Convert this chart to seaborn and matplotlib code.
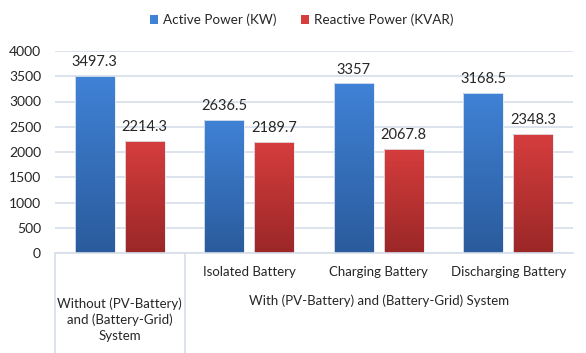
import numpy as np
import pandas as pd
import matplotlib.pyplot as plt
import matplotlib.colors as mcolors
from matplotlib.lines import Line2D
from matplotlib.patches import Patch
import seaborn as sns

# chart data
cases = ["Without", "Isolated Battery", "Charging Battery", "Discharging Battery"]
active_kw = [3497.3, 2636.5, 3357, 3168.5]
reactive_kvar = [2214.3, 2189.7, 2067.8, 2348.3]
series_names = ["Active Power (KW)", "Reactive Power (KVAR)"]
sub_labels = ["", "Isolated Battery", "Charging Battery", "Discharging Battery"]
group_labels = ["Without (PV-Battery)\nand (Battery-Grid)\nSystem",
                "With (PV-Battery) and (Battery-Grid) System"]
y_ticks = list(range(0, 4001, 500))

# (top, bottom) gradient colours per series
GRAD = {series_names[0]: ("#4082d6", "#2a5b9c"),
        series_names[1]: ("#d63d3d", "#9b2727")}

df = pd.DataFrame({
    "case": cases * 2,
    "series": [series_names[0]] * 4 + [series_names[1]] * 4,
    "value": active_kw + reactive_kvar,
})

sns.set_style("white")
plt.rcParams["font.family"] = ["Lato", "DejaVu Sans"]
TXT = "#262626"
LINE = "#d5deea"

fig = plt.figure(figsize=(5.86, 3.53), dpi=100)
ax = fig.add_axes([55 / 586, 1 - 253 / 353, 518 / 586, 202 / 353])

sns.barplot(data=df, x="case", y="value", hue="series", order=cases,
            hue_order=series_names, width=0.77, gap=0.2, legend=False,
            palette=[GRAD[s][0] for s in series_names], ax=ax, zorder=3)

ax.set_ylim(0, 4000)
ax.set_xlim(-0.5, 3.5)
ax.set_yticks(y_ticks)
ax.set_yticklabels([str(t) for t in y_ticks], fontsize=10, color=TXT)
ax.tick_params(axis="y", length=0, pad=10)
ax.set_xticks([])
ax.set_xlabel("")
ax.set_ylabel("")
ax.grid(axis="y", color=LINE, linewidth=1.2, zorder=0)
for s in ["top", "right", "left"]:
    ax.spines[s].set_visible(False)
ax.spines["bottom"].set_color(LINE)
ax.spines["bottom"].set_linewidth(1.2)

# gradient fill + value labels
for container, name in zip(ax.containers, series_names):
    cmap = mcolors.LinearSegmentedColormap.from_list(name, [GRAD[name][1], GRAD[name][0]])
    for bar in container:
        x0, y0 = bar.get_x(), bar.get_y()
        w, h = bar.get_width(), bar.get_height()
        bar.set_facecolor("none")
        bar.set_edgecolor("#e4e9f2")
        bar.set_linewidth(0.6)
        grad = np.linspace(0, 1, 256).reshape(-1, 1)
        im = ax.imshow(grad, extent=[x0, x0 + w, y0, y0 + h], origin="lower",
                       cmap=cmap, aspect="auto", zorder=2.5)
        im.set_clip_path(bar)
    ax.bar_label(container, labels=[f"{v:g}" for v in container.datavalues],
                 padding=5, fontsize=10.5, color=TXT)
ax.set_xlim(-0.5, 3.5)
ax.set_ylim(0, 4000)

# two-level category axis
for i, lab in enumerate(sub_labels):
    if lab:
        ax.text(i, -0.095, lab, transform=ax.get_xaxis_transform(),
                ha="center", va="center", fontsize=9.5, color=TXT)
ax.text(0, -0.33, group_labels[0], transform=ax.get_xaxis_transform(),
        ha="center", va="center", fontsize=9.5, color=TXT, linespacing=1.4)
ax.text(2, -0.235, group_labels[1], transform=ax.get_xaxis_transform(),
        ha="center", va="center", fontsize=9.5, color=TXT)
for xs in [-0.5, 0.5]:
    ax.add_line(Line2D([xs, xs], [0, -0.5], transform=ax.get_xaxis_transform(),
                       color=LINE, linewidth=1.2, clip_on=False))

handles = [Patch(facecolor=GRAD[s][0], edgecolor="none") for s in series_names]
fig.legend(handles, series_names, loc="center", bbox_to_anchor=(0.515, 1 - 20 / 353),
           ncol=2, frameon=False, fontsize=9.7, handlelength=0.6, handleheight=0.6,
           handletextpad=0.4, columnspacing=1.8, labelcolor=TXT)

fig.savefig("out.png", dpi=100)
